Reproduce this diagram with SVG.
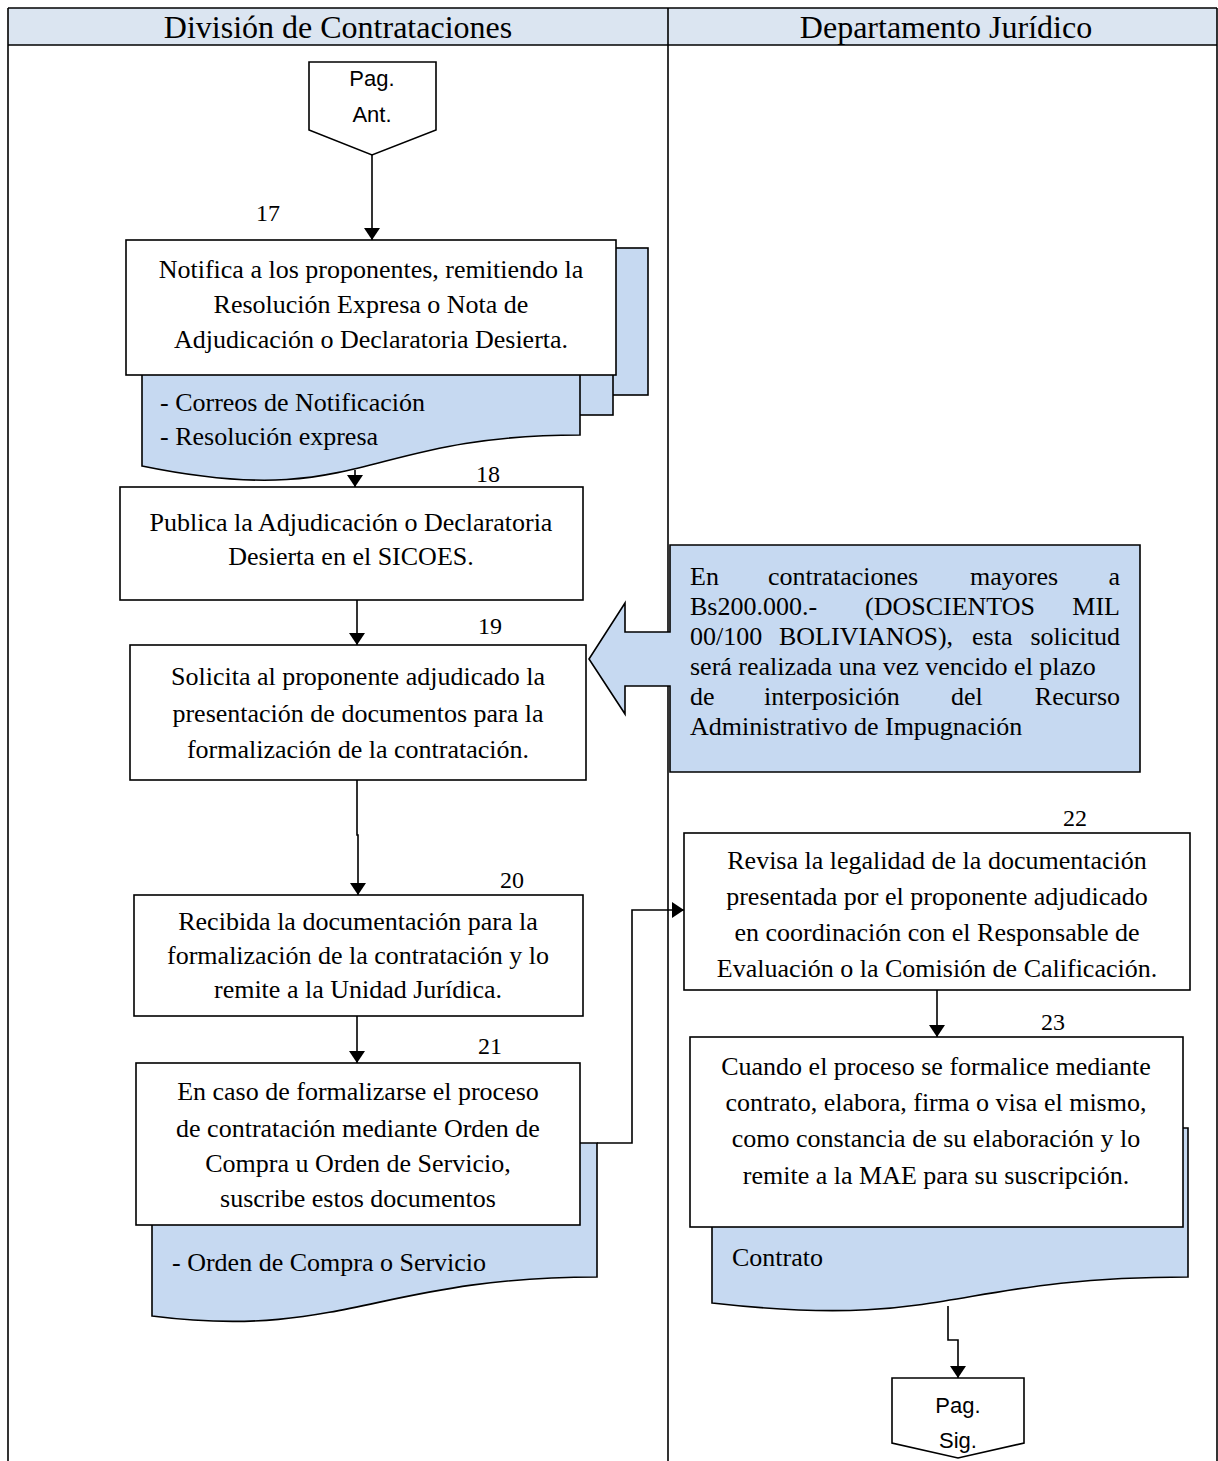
<svg xmlns="http://www.w3.org/2000/svg" width="1218" height="1461" viewBox="0 0 1218 1461">
<style>
.t{font-family:"Liberation Serif","Times New Roman",serif;font-size:26px;fill:#000}
.c{text-anchor:middle}
.e{text-anchor:end}
.lbl{font-family:"Liberation Serif","Times New Roman",serif;font-size:24px;fill:#000}
.s{font-family:"Liberation Sans",Arial,sans-serif;font-size:22px;fill:#000;text-anchor:middle}
.hd{font-family:"Liberation Serif","Times New Roman",serif;font-size:32px;fill:#000;text-anchor:middle}
.box{fill:#fff;stroke:#000;stroke-width:1.6}
.doc{fill:#c6d9f1;stroke:#000;stroke-width:1.6}
.ln{fill:none;stroke:#000;stroke-width:1.6}
.tbl{fill:none;stroke:#000;stroke-width:1.6}
</style>
<defs>
<marker id="ah" viewBox="0 0 12 16" refX="12" refY="8" markerWidth="12" markerHeight="16" markerUnits="userSpaceOnUse" orient="auto">
<path d="M0,0 L12,8 L0,16 Z" fill="#000"/>
</marker>
</defs>
<rect width="1218" height="1461" fill="#fff"/>
<g id="table">
<rect x="8" y="8" width="1209" height="37" fill="#dbe5f1"/>
<line class="tbl" x1="8" y1="8" x2="1217" y2="8"/>
<line class="tbl" x1="8" y1="45" x2="1217" y2="45"/>
<line class="tbl" x1="8" y1="8" x2="8" y2="1461"/>
<line class="tbl" x1="1217" y1="8" x2="1217" y2="1461"/>
<line class="tbl" x1="668" y1="8" x2="668" y2="1461"/>
<text class="hd" x="338" y="38">División de Contrataciones</text>
<text class="hd" x="946" y="38">Departamento Jurídico</text>
</g>
<g id="connectors">
<line class="ln" x1="372" y1="155" x2="372" y2="240" marker-end="url(#ah)"/>
<line class="ln" x1="355" y1="470" x2="355" y2="487" marker-end="url(#ah)"/>
<line class="ln" x1="357" y1="600" x2="357" y2="645" marker-end="url(#ah)"/>
<path class="ln" d="M357,780 V835 H358 V895" marker-end="url(#ah)"/>
<line class="ln" x1="357" y1="1016" x2="357" y2="1063" marker-end="url(#ah)"/>
<path class="ln" d="M597,1143 H632 V910 H684" marker-end="url(#ah)"/>
<line class="ln" x1="937" y1="990" x2="937" y2="1037" marker-end="url(#ah)"/>
<path class="ln" d="M948,1306 V1340 H958 V1378" marker-end="url(#ah)"/>
</g>
<g id="pag-ant">
<path class="box" d="M309,62 H436 V130 L372,155 L309,130 Z"/>
<text class="s" x="372" y="86">Pag.</text>
<text class="s" x="372" y="122">Ant.</text>
</g>
<g id="step17">
<rect class="doc" x="200" y="248" width="448" height="147"/>
<rect class="doc" x="170" y="256" width="443" height="159"/>
<path class="doc" d="M142,264 H580 V435 C361,435 361,511 142,466 Z"/>
<rect class="box" x="126" y="240" width="490" height="135"/>
<text class="lbl" x="268" y="221" text-anchor="middle">17</text>
<text class="t c" x="371" y="278">Notifica a los proponentes, remitiendo la</text>
<text class="t c" x="371" y="313">Resolución Expresa o Nota de</text>
<text class="t c" x="371" y="348">Adjudicación o Declaratoria Desierta.</text>
<text class="t" x="160" y="411">- Correos de Notificación</text>
<text class="t" x="160" y="445">- Resolución expresa</text>
</g>
<g id="step18">
<rect class="box" x="120" y="487" width="463" height="113"/>
<text class="lbl" x="488" y="482" text-anchor="middle">18</text>
<text class="t c" x="351" y="531">Publica la Adjudicación o Declaratoria</text>
<text class="t c" x="351" y="565">Desierta en el SICOES.</text>
</g>
<g id="callout">
<path class="doc" d="M670,545 H1140 V772 H670 V686 H625 V714 L589,659 L625,603 V632 H670 Z"/>
<text class="t" x="690" y="585">En</text>
<text class="t" x="768" y="585">contrataciones</text>
<text class="t" x="970" y="585">mayores</text>
<text class="t e" x="1120" y="585">a</text>
<text class="t" x="690" y="615">Bs200.000.-</text>
<text class="t" x="865" y="615">(DOSCIENTOS</text>
<text class="t e" x="1120" y="615">MIL</text>
<text class="t" x="690" y="645">00/100</text>
<text class="t" x="779" y="645">BOLIVIANOS),</text>
<text class="t" x="972" y="645">esta</text>
<text class="t e" x="1120" y="645">solicitud</text>
<text class="t" x="690" y="675">será realizada una vez vencido el plazo</text>
<text class="t" x="690" y="705">de</text>
<text class="t" x="764" y="705">interposición</text>
<text class="t" x="951" y="705">del</text>
<text class="t e" x="1120" y="705">Recurso</text>
<text class="t" x="690" y="735">Administrativo de Impugnación</text>
</g>
<g id="step19">
<rect class="box" x="130" y="645" width="456" height="135"/>
<text class="lbl" x="490" y="634" text-anchor="middle">19</text>
<text class="t c" x="358" y="685">Solicita al proponente adjudicado la</text>
<text class="t c" x="358" y="722">presentación de documentos para la</text>
<text class="t c" x="358" y="758">formalización de la contratación.</text>
</g>
<g id="step20">
<rect class="box" x="134" y="895" width="449" height="121"/>
<text class="lbl" x="512" y="888" text-anchor="middle">20</text>
<text class="t c" x="358" y="930">Recibida la documentación para la</text>
<text class="t c" x="358" y="964">formalización de la contratación y lo</text>
<text class="t c" x="358" y="998">remite a la Unidad Jurídica.</text>
</g>
<g id="step21">
<path class="doc" d="M152,1143 H597 V1277 C380,1277 340,1340 152,1316 Z"/>
<rect class="box" x="136" y="1063" width="444" height="162"/>
<text class="lbl" x="490" y="1054" text-anchor="middle">21</text>
<text class="t c" x="358" y="1100">En caso de formalizarse el proceso</text>
<text class="t c" x="358" y="1137">de contratación mediante Orden de</text>
<text class="t c" x="358" y="1172">Compra u Orden de Servicio,</text>
<text class="t c" x="358" y="1207">suscribe estos documentos</text>
<text class="t" x="172" y="1271">- Orden de Compra o Servicio</text>
</g>
<g id="step22">
<rect class="box" x="684" y="833" width="506" height="157"/>
<text class="lbl" x="1075" y="826" text-anchor="middle">22</text>
<text class="t c" x="937" y="869">Revisa la legalidad de la documentación</text>
<text class="t c" x="937" y="905">presentada por el proponente adjudicado</text>
<text class="t c" x="937" y="941">en coordinación con el Responsable de</text>
<text class="t c" x="937" y="977">Evaluación o la Comisión de Calificación.</text>
</g>
<g id="step23">
<path class="doc" d="M712,1128 H1188 V1277 C950,1277 950,1330 712,1303 Z"/>
<rect class="box" x="690" y="1037" width="493" height="190"/>
<text class="lbl" x="1053" y="1030" text-anchor="middle">23</text>
<text class="t c" x="936" y="1075">Cuando el proceso se formalice mediante</text>
<text class="t c" x="936" y="1111">contrato, elabora, firma o visa el mismo,</text>
<text class="t c" x="936" y="1147">como constancia de su elaboración y lo</text>
<text class="t c" x="936" y="1184">remite a la MAE para su suscripción.</text>
<text class="t" x="732" y="1266">Contrato</text>
</g>
<g id="pag-sig">
<path class="box" d="M892,1378 H1024 V1443 L958,1458 L892,1443 Z"/>
<text class="s" x="958" y="1413">Pag.</text>
<text class="s" x="958" y="1448">Sig.</text>
</g>
</svg>
